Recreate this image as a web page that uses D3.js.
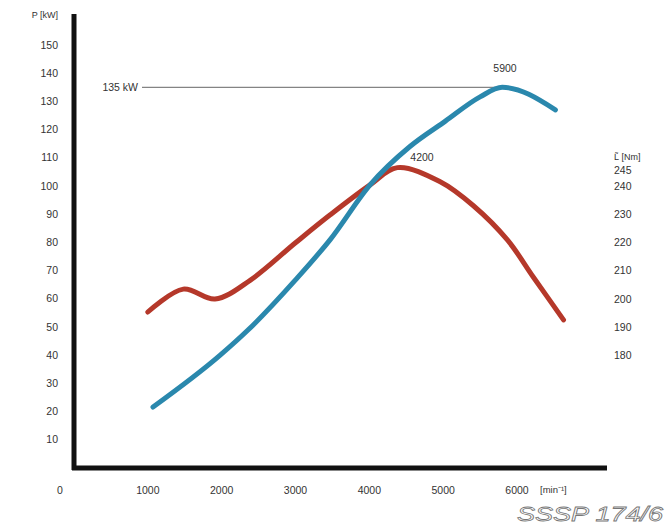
<!DOCTYPE html>
<html>
<head>
<meta charset="utf-8">
<script src="https://cdn.jsdelivr.net/npm/d3@7"></script>
<style>
  body { margin: 0; background: #fff; }
  svg text { font-family: "Liberation Sans", Arial, sans-serif; fill: #333; }
</style>
</head>
<body>
<div id="chart"></div>
<script>
// Power curve (kW) over engine speed (rpm)
const powerRpm = [1070, 1980, 2360, 3000, 3470, 4010, 4550, 5030, 5500, 5800, 6520];
const powerKw  = [21.6, 40, 49, 66.7, 81, 100.4, 114, 123, 131.6, 135, 127];

// Torque curve (Nm) over engine speed (rpm)
const torqueRpm = [1000, 1480, 1910, 2390, 3000, 3470, 4010, 4380, 4960, 5410, 5870, 6220, 6630];
const torqueNm  = [195.4, 203.5, 200, 206.7, 219.9, 229.8, 240.4, 246.5, 241.5, 233, 220.9, 207.8, 192.6];

const powerTicks = [10, 20, 30, 40, 50, 60, 70, 80, 90, 100, 110, 120, 130, 140, 150];
const torqueTicks = [180, 190, 200, 210, 220, 230, 240, 245];
const rpmTicks = [0, 1000, 2000, 3000, 4000, 5000, 6000];

const maxPower = 135;
const maxPowerRpm = 5900;
const maxTorqueRpm = 4200;

const width = 665, height = 525;

const svg = d3.select('#chart').append('svg')
  .attr('width', width)
  .attr('height', height);

// scales: power 0 sits on the bottom axis, torque 200 Nm lines up with 60 kW
const x = d3.scaleLinear().domain([0, 6000]).range([74, 517]);
const yP = d3.scaleLinear().domain([0, 150]).range([468, 45]);
const yT = d3.scaleLinear().domain([200, 240]).range([299, 186]);

// axis lines (thick, black)
svg.append('line')
  .attr('x1', 74).attr('x2', 74)
  .attr('y1', 14).attr('y2', 470)
  .attr('stroke', '#111').attr('stroke-width', 5);
svg.append('line')
  .attr('x1', 72).attr('x2', 607)
  .attr('y1', yP(0)).attr('y2', yP(0))
  .attr('stroke', '#111').attr('stroke-width', 5);

// left power axis labels
svg.append('g').selectAll('text')
  .data(powerTicks)
  .join('text')
  .attr('x', 58)
  .attr('y', d => yP(d))
  .attr('dy', '0.35em')
  .attr('text-anchor', 'end')
  .attr('font-size', 10.5)
  .text(d => d);

svg.append('text')
  .attr('x', 58).attr('y', 18)
  .attr('text-anchor', 'end')
  .attr('font-size', 9)
  .text('P [kW]');

// right torque axis labels
svg.append('g').selectAll('text')
  .data(torqueTicks)
  .join('text')
  .attr('x', 614)
  .attr('y', d => d === 245 ? yT(d) - 2 : yT(d))
  .attr('dy', '0.35em')
  .attr('font-size', 10.5)
  .text(d => d);

svg.append('text')
  .attr('x', 614).attr('y', 157)
  .attr('dy', '0.35em')
  .attr('font-size', 9)
  .text('L\u0303 [Nm]');

// bottom rpm labels
svg.append('g').selectAll('text')
  .data(rpmTicks)
  .join('text')
  .attr('x', d => d === 0 ? 60 : x(d))
  .attr('y', 490)
  .attr('dy', '0.35em')
  .attr('text-anchor', 'middle')
  .attr('font-size', 10.5)
  .text(d => d);

svg.append('text')
  .attr('x', 540).attr('y', 490)
  .attr('dy', '0.35em')
  .attr('font-size', 9.5)
  .text('[min\u207B\u00B9]');

// max power reference line
svg.append('line')
  .attr('x1', 142).attr('x2', x(5800))
  .attr('y1', yP(maxPower)).attr('y2', yP(maxPower))
  .attr('stroke', '#666').attr('stroke-width', 1);

svg.append('text')
  .attr('x', 138).attr('y', yP(maxPower))
  .attr('dy', '0.35em')
  .attr('text-anchor', 'end')
  .attr('font-size', 10.5)
  .text(maxPower + ' kW');

// torque curve (red)
const torqueLine = d3.line()
  .x(d => x(d[0]))
  .y(d => yT(d[1]))
  .curve(d3.curveCatmullRom);

svg.append('path')
  .datum(d3.zip(torqueRpm, torqueNm))
  .attr('d', torqueLine)
  .attr('fill', 'none')
  .attr('stroke', '#b5382a')
  .attr('stroke-width', 5)
  .attr('stroke-linecap', 'round');

// power curve (blue)
const powerLine = d3.line()
  .x(d => x(d[0]))
  .y(d => yP(d[1]))
  .curve(d3.curveMonotoneX);

svg.append('path')
  .datum(d3.zip(powerRpm, powerKw))
  .attr('d', powerLine)
  .attr('fill', 'none')
  .attr('stroke', '#2a88ad')
  .attr('stroke-width', 5)
  .attr('stroke-linecap', 'round');

// peak annotations
svg.append('text')
  .attr('x', 505).attr('y', 68)
  .attr('dy', '0.35em')
  .attr('text-anchor', 'middle')
  .attr('font-size', 10.5)
  .text(maxPowerRpm);

svg.append('text')
  .attr('x', 422).attr('y', 157)
  .attr('dy', '0.35em')
  .attr('text-anchor', 'middle')
  .attr('font-size', 10.5)
  .text(maxTorqueRpm);

// source tag
svg.append('text')
  .attr('x', 663).attr('y', 521)
  .attr('text-anchor', 'end')
  .attr('font-size', 21)
  .attr('font-style', 'italic')
  .attr('textLength', 146)
  .attr('lengthAdjust', 'spacingAndGlyphs')
  .style('fill', '#fff')
  .attr('stroke', '#777')
  .attr('stroke-width', 0.8)
  .text('SSSP 174/6');
</script>
</body>
</html>
